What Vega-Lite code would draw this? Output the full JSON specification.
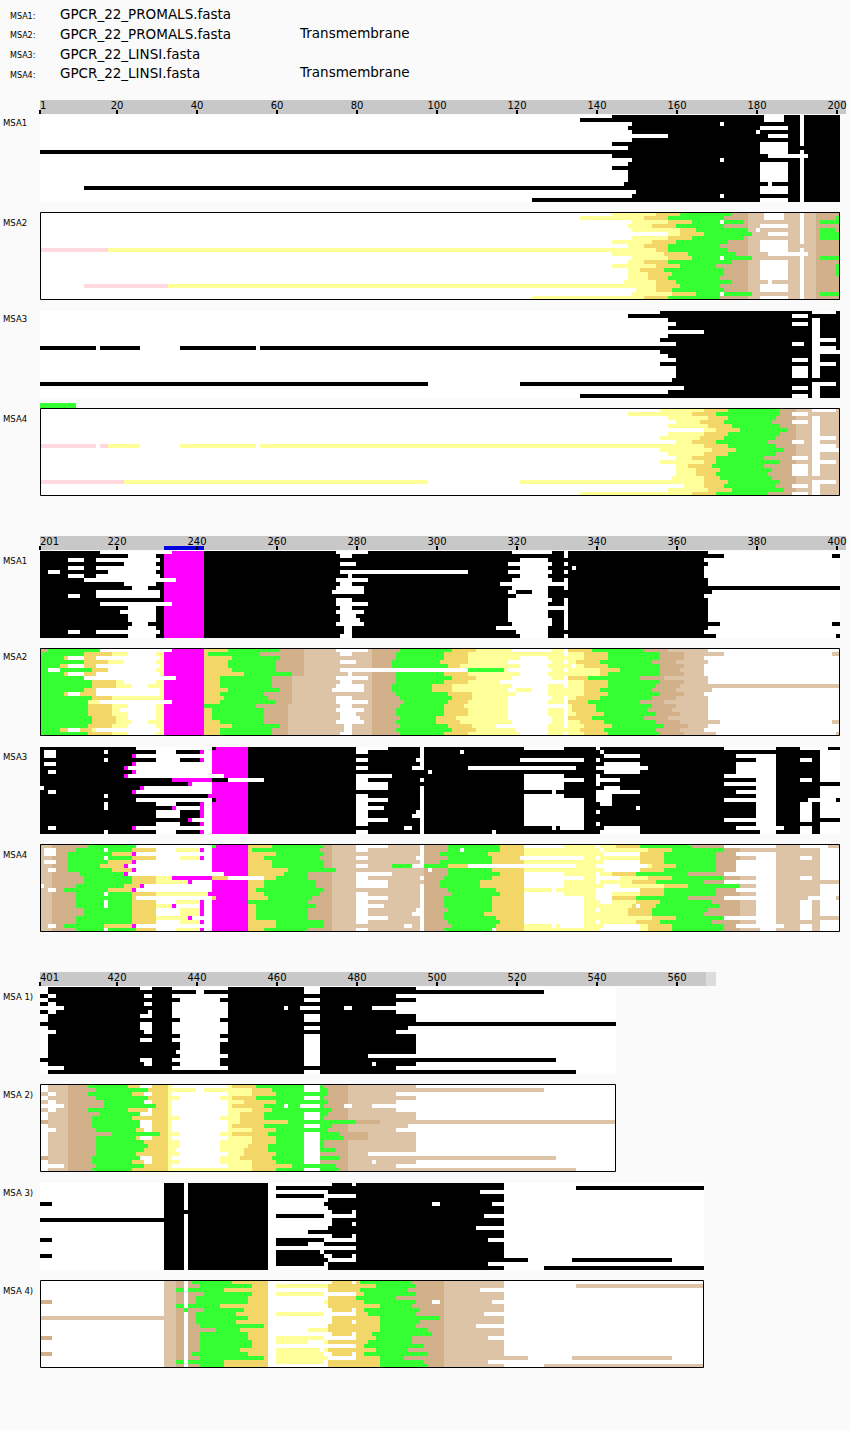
{"$schema":"https://vega.github.io/schema/vega-lite/v6.json","padding":0,"bounds":"flush","spacing":0,"background":"#fafafa","resolve":{"scale":{"color":"independent"}},"config":{"axis":{"disable":true},"legend":{"disable":true},"view":{"stroke":null},"text":{"font":"DejaVu Sans"},"concat":{"spacing":0}},
"datasets":{
"T1":[{"s":20,"t":"20"},{"s":40,"t":"40"},{"s":60,"t":"60"},{"s":80,"t":"80"},{"s":100,"t":"100"},{"s":120,"t":"120"},{"s":140,"t":"140"},{"s":160,"t":"160"},{"s":180,"t":"180"},{"s":200,"t":"200"}],
"T2":[{"s":220,"t":"220"},{"s":240,"t":"240"},{"s":260,"t":"260"},{"s":280,"t":"280"},{"s":300,"t":"300"},{"s":320,"t":"320"},{"s":340,"t":"340"},{"s":360,"t":"360"},{"s":380,"t":"380"},{"s":400,"t":"400"}],
"T3":[{"s":420,"t":"420"},{"s":440,"t":"440"},{"s":460,"t":"460"},{"s":480,"t":"480"},{"s":500,"t":"500"},{"s":520,"t":"520"},{"s":540,"t":"540"},{"s":560,"t":"560"}],
"P1":[{"r":0,"q":22,"s":1,"e":201,"c":"w"},{"r":0,"q":22,"s":165,"e":178,"c":"t"},{"r":0,"q":22,"s":178,"e":195,"c":"l"},{"r":0,"q":22,"s":195,"e":201,"c":"t"},
{"r":0,"q":1,"s":144,"e":155,"c":"y"},{"r":0,"q":1,"s":155,"e":161,"c":"o"},{"r":0,"q":1,"s":161,"e":174,"c":"g"},
{"r":1,"q":2,"s":136,"e":152,"c":"y"},{"r":1,"q":2,"s":152,"e":158,"c":"o"},{"r":1,"q":2,"s":158,"e":172,"c":"g"},
{"r":2,"q":3,"s":149,"e":158,"c":"y"},{"r":2,"q":3,"s":158,"e":164,"c":"o"},{"r":2,"q":3,"s":164,"e":177,"c":"g"},
{"r":3,"q":4,"s":148,"e":154,"c":"y"},{"r":3,"q":4,"s":154,"e":160,"c":"o"},{"r":3,"q":4,"s":160,"e":172,"c":"g"},
{"r":4,"q":5,"s":149,"e":161,"c":"y"},{"r":4,"q":5,"s":161,"e":165,"c":"o"},{"r":4,"q":5,"s":165,"e":178,"c":"g"},
{"r":5,"q":6,"s":158,"e":161,"c":"y"},{"r":5,"q":6,"s":161,"e":167,"c":"o"},{"r":5,"q":6,"s":167,"e":179,"c":"g"},
{"r":6,"q":7,"s":149,"e":158,"c":"y"},{"r":6,"q":7,"s":158,"e":164,"c":"o"},{"r":6,"q":7,"s":164,"e":177,"c":"g"},
{"r":7,"q":8,"s":144,"e":154,"c":"y"},{"r":7,"q":8,"s":154,"e":160,"c":"o"},{"r":7,"q":8,"s":160,"e":173,"c":"g"},
{"r":8,"q":9,"s":148,"e":152,"c":"y"},{"r":8,"q":9,"s":152,"e":158,"c":"o"},{"r":8,"q":9,"s":158,"e":171,"c":"g"},
{"r":9,"q":10,"s":1,"e":18,"c":"p"},{"r":9,"q":10,"s":18,"e":155,"c":"y"},{"r":9,"q":10,"s":155,"e":158,"c":"o"},{"r":9,"q":10,"s":158,"e":173,"c":"g"},
{"r":10,"q":11,"s":144,"e":157,"c":"y"},{"r":10,"q":11,"s":157,"e":163,"c":"o"},{"r":10,"q":11,"s":163,"e":175,"c":"g"},
{"r":11,"q":12,"s":149,"e":158,"c":"y"},{"r":11,"q":12,"s":158,"e":164,"c":"o"},{"r":11,"q":12,"s":164,"e":179,"c":"g"},
{"r":12,"q":13,"s":148,"e":152,"c":"y"},{"r":12,"q":13,"s":152,"e":158,"c":"o"},{"r":12,"q":13,"s":158,"e":174,"c":"g"},
{"r":13,"q":14,"s":144,"e":155,"c":"y"},{"r":13,"q":14,"s":155,"e":161,"c":"o"},{"r":13,"q":14,"s":161,"e":170,"c":"g"},
{"r":14,"q":15,"s":148,"e":151,"c":"y"},{"r":14,"q":15,"s":151,"e":157,"c":"o"},{"r":14,"q":15,"s":157,"e":172,"c":"g"},
{"r":15,"q":16,"s":148,"e":153,"c":"y"},{"r":15,"q":16,"s":153,"e":159,"c":"o"},{"r":15,"q":16,"s":159,"e":172,"c":"g"},
{"r":16,"q":17,"s":148,"e":153,"c":"y"},{"r":16,"q":17,"s":153,"e":158,"c":"o"},{"r":16,"q":17,"s":158,"e":171,"c":"g"},
{"r":17,"q":18,"s":147,"e":155,"c":"y"},{"r":17,"q":18,"s":155,"e":160,"c":"o"},{"r":17,"q":18,"s":160,"e":174,"c":"g"},
{"r":18,"q":19,"s":12,"e":33,"c":"p"},{"r":18,"q":19,"s":33,"e":155,"c":"y"},{"r":18,"q":19,"s":155,"e":161,"c":"o"},{"r":18,"q":19,"s":161,"e":171,"c":"g"},
{"r":19,"q":20,"s":150,"e":155,"c":"y"},{"r":19,"q":20,"s":155,"e":159,"c":"o"},{"r":19,"q":20,"s":159,"e":172,"c":"g"},
{"r":20,"q":21,"s":149,"e":159,"c":"y"},{"r":20,"q":21,"s":159,"e":165,"c":"o"},{"r":20,"q":21,"s":165,"e":179,"c":"g"},
{"r":21,"q":22,"s":124,"e":152,"c":"y"},{"r":21,"q":22,"s":152,"e":158,"c":"o"},{"r":21,"q":22,"s":158,"e":171,"c":"g"},
{"r":2,"q":3,"s":196,"e":201,"c":"g"},{"r":1,"q":2,"s":200,"e":201,"c":"g"},{"r":4,"q":5,"s":196,"e":200,"c":"g"},{"r":5,"q":7,"s":196,"e":201,"c":"g"},{"r":11,"q":12,"s":196,"e":201,"c":"g"},{"r":20,"q":21,"s":196,"e":201,"c":"g"},{"r":13,"q":16,"s":200,"e":201,"c":"g"},
{"r":0,"q":2,"s":182,"e":187,"c":"w"},{"r":3,"q":4,"s":181,"e":188,"c":"w"},{"r":4,"q":5,"s":180,"e":181,"c":"w"},{"r":5,"q":6,"s":183,"e":188,"c":"w"},{"r":7,"q":10,"s":181,"e":188,"c":"w"},{"r":10,"q":11,"s":183,"e":193,"c":"w"},{"r":12,"q":17,"s":181,"e":188,"c":"w"},{"r":17,"q":18,"s":183,"e":184,"c":"w"},{"r":18,"q":20,"s":181,"e":188,"c":"w"},{"r":21,"q":22,"s":181,"e":188,"c":"w"},{"r":0,"q":8,"s":191,"e":192,"c":"w"},{"r":9,"q":22,"s":191,"e":192,"c":"w"},{"r":2,"q":3,"s":171,"e":172,"c":"w"},{"r":11,"q":12,"s":171,"e":172,"c":"w"},{"r":20,"q":21,"s":171,"e":172,"c":"w"}],
"L1":[{"r":0,"q":22,"s":1,"e":201,"c":"w"},{"r":0,"q":22,"s":175,"e":190,"c":"t"},{"r":0,"q":22,"s":190,"e":201,"c":"l"},
{"r":0,"q":1,"s":156,"e":167,"c":"y"},{"r":0,"q":1,"s":167,"e":173,"c":"o"},{"r":0,"q":1,"s":173,"e":186,"c":"g"},
{"r":1,"q":2,"s":148,"e":164,"c":"y"},{"r":1,"q":2,"s":164,"e":170,"c":"o"},{"r":1,"q":2,"s":170,"e":186,"c":"g"},
{"r":2,"q":3,"s":158,"e":168,"c":"y"},{"r":2,"q":3,"s":168,"e":173,"c":"o"},{"r":2,"q":3,"s":173,"e":185,"c":"g"},
{"r":3,"q":4,"s":160,"e":166,"c":"y"},{"r":3,"q":4,"s":166,"e":172,"c":"o"},{"r":3,"q":4,"s":172,"e":184,"c":"g"},
{"r":4,"q":5,"s":158,"e":168,"c":"y"},{"r":4,"q":5,"s":168,"e":174,"c":"o"},{"r":4,"q":5,"s":174,"e":186,"c":"g"},
{"r":5,"q":6,"s":167,"e":170,"c":"y"},{"r":5,"q":6,"s":170,"e":176,"c":"o"},{"r":5,"q":6,"s":176,"e":188,"c":"g"},
{"r":6,"q":7,"s":158,"e":167,"c":"y"},{"r":6,"q":7,"s":167,"e":173,"c":"o"},{"r":6,"q":7,"s":173,"e":186,"c":"g"},
{"r":7,"q":8,"s":156,"e":166,"c":"y"},{"r":7,"q":8,"s":166,"e":172,"c":"o"},{"r":7,"q":8,"s":172,"e":185,"c":"g"},
{"r":8,"q":9,"s":160,"e":164,"c":"y"},{"r":8,"q":9,"s":164,"e":170,"c":"o"},{"r":8,"q":9,"s":170,"e":183,"c":"g"},
{"r":9,"q":10,"s":1,"e":15,"c":"p"},{"r":9,"q":10,"s":16,"e":18,"c":"p"},{"r":9,"q":10,"s":18,"e":26,"c":"y"},{"r":9,"q":10,"s":36,"e":55,"c":"y"},{"r":9,"q":10,"s":56,"e":167,"c":"y"},{"r":9,"q":10,"s":167,"e":173,"c":"o"},{"r":9,"q":10,"s":173,"e":185,"c":"g"},
{"r":10,"q":11,"s":156,"e":169,"c":"y"},{"r":10,"q":11,"s":169,"e":175,"c":"o"},{"r":10,"q":11,"s":175,"e":187,"c":"g"},
{"r":11,"q":12,"s":158,"e":167,"c":"y"},{"r":11,"q":12,"s":167,"e":173,"c":"o"},{"r":11,"q":12,"s":173,"e":185,"c":"g"},
{"r":12,"q":13,"s":160,"e":164,"c":"y"},{"r":12,"q":13,"s":164,"e":170,"c":"o"},{"r":12,"q":13,"s":170,"e":182,"c":"g"},
{"r":13,"q":14,"s":156,"e":167,"c":"y"},{"r":13,"q":14,"s":167,"e":170,"c":"o"},{"r":13,"q":14,"s":170,"e":186,"c":"g"},
{"r":14,"q":15,"s":160,"e":163,"c":"y"},{"r":14,"q":15,"s":163,"e":169,"c":"o"},{"r":14,"q":15,"s":169,"e":182,"c":"g"},
{"r":15,"q":16,"s":160,"e":165,"c":"y"},{"r":15,"q":16,"s":165,"e":171,"c":"o"},{"r":15,"q":16,"s":171,"e":184,"c":"g"},
{"r":16,"q":17,"s":160,"e":165,"c":"y"},{"r":16,"q":17,"s":165,"e":170,"c":"o"},{"r":16,"q":17,"s":170,"e":183,"c":"g"},
{"r":17,"q":18,"s":159,"e":167,"c":"y"},{"r":17,"q":18,"s":167,"e":171,"c":"o"},{"r":17,"q":18,"s":171,"e":184,"c":"g"},
{"r":18,"q":19,"s":1,"e":22,"c":"p"},{"r":18,"q":19,"s":22,"e":98,"c":"y"},{"r":18,"q":19,"s":121,"e":167,"c":"y"},{"r":18,"q":19,"s":167,"e":173,"c":"o"},{"r":18,"q":19,"s":173,"e":186,"c":"g"},
{"r":19,"q":20,"s":162,"e":167,"c":"y"},{"r":19,"q":20,"s":167,"e":172,"c":"o"},{"r":19,"q":20,"s":172,"e":185,"c":"g"},
{"r":20,"q":21,"s":158,"e":168,"c":"y"},{"r":20,"q":21,"s":168,"e":174,"c":"o"},{"r":20,"q":21,"s":174,"e":187,"c":"g"},
{"r":21,"q":22,"s":136,"e":164,"c":"y"},{"r":21,"q":22,"s":164,"e":170,"c":"o"},{"r":21,"q":22,"s":170,"e":183,"c":"g"},
{"r":1,"q":2,"s":189,"e":193,"c":"w"},{"r":3,"q":4,"s":189,"e":193,"c":"w"},{"r":8,"q":9,"s":189,"e":192,"c":"w"},{"r":12,"q":13,"s":189,"e":193,"c":"w"},{"r":14,"q":17,"s":189,"e":193,"c":"w"},{"r":19,"q":20,"s":189,"e":193,"c":"w"},{"r":21,"q":22,"s":189,"e":193,"c":"w"},
{"r":0,"q":1,"s":194,"e":200,"c":"w"},{"r":2,"q":17,"s":194,"e":196,"c":"w"},{"r":18,"q":22,"s":194,"e":196,"c":"w"},{"r":7,"q":8,"s":196,"e":200,"c":"w"},{"r":9,"q":10,"s":196,"e":200,"c":"w"},{"r":10,"q":11,"s":196,"e":201,"c":"w"},{"r":13,"q":14,"s":196,"e":200,"c":"w"},{"r":18,"q":19,"s":196,"e":200,"c":"w"}],
"P2":[{"r":0,"q":22,"s":201,"e":401,"c":"w"},{"r":0,"q":22,"s":212,"e":232,"c":"y"},{"r":0,"q":22,"s":232,"e":242,"c":"m"},{"r":0,"q":22,"s":242,"e":253,"c":"o"},{"r":0,"q":7,"s":255,"e":267,"c":"t"},{"r":7,"q":14,"s":255,"e":264,"c":"t"},{"r":14,"q":22,"s":255,"e":263,"c":"t"},{"r":0,"q":7,"s":267,"e":284,"c":"l"},{"r":7,"q":14,"s":264,"e":284,"c":"l"},{"r":14,"q":22,"s":263,"e":284,"c":"l"},{"r":0,"q":22,"s":284,"e":292,"c":"t"},{"r":0,"q":22,"s":292,"e":352,"c":"y"},
{"r":0,"q":1,"s":201,"e":203,"c":"t"},{"r":0,"q":1,"s":203,"e":216,"c":"g"},{"r":1,"q":2,"s":201,"e":212,"c":"g"},{"r":1,"q":2,"s":212,"e":219,"c":"o"},{"r":2,"q":3,"s":201,"e":207,"c":"g"},{"r":2,"q":3,"s":207,"e":215,"c":"o"},{"r":3,"q":4,"s":201,"e":212,"c":"g"},{"r":3,"q":4,"s":212,"e":218,"c":"o"},{"r":4,"q":5,"s":201,"e":206,"c":"g"},{"r":4,"q":5,"s":206,"e":215,"c":"o"},{"r":5,"q":6,"s":201,"e":214,"c":"g"},{"r":5,"q":6,"s":214,"e":218,"c":"o"},{"r":6,"q":7,"s":201,"e":207,"c":"g"},{"r":6,"q":7,"s":207,"e":215,"c":"o"},{"r":7,"q":8,"s":201,"e":212,"c":"g"},{"r":8,"q":9,"s":201,"e":214,"c":"g"},{"r":8,"q":9,"s":214,"e":220,"c":"o"},{"r":9,"q":10,"s":201,"e":214,"c":"g"},{"r":9,"q":10,"s":214,"e":220,"c":"o"},{"r":10,"q":11,"s":201,"e":212,"c":"g"},{"r":10,"q":11,"s":212,"e":215,"c":"o"},{"r":11,"q":12,"s":201,"e":207,"c":"g"},{"r":11,"q":12,"s":207,"e":215,"c":"o"},{"r":12,"q":13,"s":201,"e":214,"c":"g"},{"r":12,"q":13,"s":214,"e":219,"c":"o"},{"r":13,"q":14,"s":201,"e":213,"c":"g"},{"r":14,"q":17,"s":201,"e":213,"c":"g"},{"r":14,"q":17,"s":213,"e":219,"c":"o"},{"r":17,"q":19,"s":201,"e":214,"c":"g"},{"r":17,"q":19,"s":214,"e":220,"c":"o"},{"r":19,"q":20,"s":201,"e":213,"c":"g"},{"r":19,"q":20,"s":213,"e":219,"c":"o"},{"r":20,"q":21,"s":201,"e":206,"c":"g"},{"r":20,"q":21,"s":206,"e":214,"c":"o"},{"r":21,"q":22,"s":201,"e":213,"c":"g"},{"r":21,"q":22,"s":213,"e":219,"c":"o"},
{"r":0,"q":1,"s":248,"e":261,"c":"g"},{"r":1,"q":2,"s":243,"e":256,"c":"g"},{"r":2,"q":3,"s":249,"e":261,"c":"g"},{"r":3,"q":5,"s":248,"e":260,"c":"g"},{"r":5,"q":6,"s":249,"e":260,"c":"g"},{"r":6,"q":7,"s":252,"e":264,"c":"g"},{"r":7,"q":10,"s":246,"e":259,"c":"g"},{"r":10,"q":11,"s":248,"e":261,"c":"g"},{"r":11,"q":12,"s":246,"e":257,"c":"g"},{"r":12,"q":13,"s":247,"e":258,"c":"g"},{"r":13,"q":14,"s":246,"e":260,"c":"g"},{"r":14,"q":15,"s":242,"e":255,"c":"g"},{"r":15,"q":18,"s":244,"e":257,"c":"g"},{"r":18,"q":19,"s":246,"e":257,"c":"g"},{"r":19,"q":20,"s":249,"e":261,"c":"g"},{"r":20,"q":22,"s":246,"e":259,"c":"g"},
{"r":0,"q":1,"s":291,"e":304,"c":"g"},{"r":0,"q":1,"s":304,"e":310,"c":"o"},{"r":1,"q":3,"s":290,"e":302,"c":"g"},{"r":1,"q":3,"s":302,"e":308,"c":"o"},{"r":3,"q":4,"s":289,"e":301,"c":"g"},{"r":3,"q":4,"s":301,"e":308,"c":"o"},{"r":4,"q":5,"s":289,"e":303,"c":"g"},{"r":4,"q":5,"s":303,"e":306,"c":"o"},{"r":5,"q":6,"s":308,"e":317,"c":"g"},{"r":6,"q":7,"s":290,"e":302,"c":"g"},{"r":6,"q":7,"s":302,"e":308,"c":"o"},{"r":7,"q":8,"s":290,"e":304,"c":"g"},{"r":7,"q":8,"s":304,"e":310,"c":"o"},{"r":8,"q":9,"s":290,"e":302,"c":"g"},{"r":8,"q":9,"s":302,"e":308,"c":"o"},{"r":9,"q":11,"s":289,"e":299,"c":"g"},{"r":9,"q":11,"s":299,"e":304,"c":"o"},{"r":11,"q":12,"s":290,"e":303,"c":"g"},{"r":11,"q":12,"s":303,"e":309,"c":"o"},{"r":12,"q":13,"s":291,"e":304,"c":"g"},{"r":12,"q":13,"s":304,"e":309,"c":"o"},{"r":13,"q":14,"s":292,"e":303,"c":"g"},{"r":13,"q":14,"s":303,"e":308,"c":"o"},{"r":14,"q":15,"s":291,"e":302,"c":"g"},{"r":14,"q":15,"s":302,"e":307,"c":"o"},{"r":15,"q":17,"s":290,"e":302,"c":"g"},{"r":15,"q":17,"s":302,"e":308,"c":"o"},{"r":17,"q":18,"s":291,"e":300,"c":"g"},{"r":17,"q":18,"s":300,"e":305,"c":"o"},{"r":18,"q":19,"s":290,"e":300,"c":"g"},{"r":18,"q":19,"s":300,"e":306,"c":"o"},{"r":19,"q":20,"s":291,"e":303,"c":"g"},{"r":19,"q":20,"s":303,"e":309,"c":"o"},{"r":20,"q":21,"s":290,"e":304,"c":"g"},{"r":20,"q":21,"s":304,"e":310,"c":"o"},{"r":21,"q":22,"s":291,"e":302,"c":"g"},{"r":21,"q":22,"s":302,"e":308,"c":"o"},
{"r":0,"q":1,"s":333,"e":339,"c":"o"},{"r":0,"q":1,"s":339,"e":352,"c":"g"},{"r":0,"q":1,"s":352,"e":358,"c":"t"},{"r":0,"q":1,"s":358,"e":368,"c":"l"},{"r":1,"q":3,"s":337,"e":343,"c":"o"},{"r":1,"q":3,"s":343,"e":356,"c":"g"},{"r":1,"q":3,"s":356,"e":362,"c":"t"},{"r":1,"q":2,"s":362,"e":372,"c":"l"},{"r":1,"q":2,"s":399,"e":401,"c":"l"},{"r":2,"q":3,"s":362,"e":367,"c":"l"},{"r":3,"q":4,"s":335,"e":341,"c":"o"},{"r":3,"q":4,"s":341,"e":354,"c":"g"},{"r":3,"q":4,"s":354,"e":360,"c":"t"},{"r":3,"q":4,"s":360,"e":368,"c":"l"},{"r":4,"q":5,"s":337,"e":343,"c":"o"},{"r":4,"q":5,"s":343,"e":356,"c":"g"},{"r":4,"q":5,"s":356,"e":362,"c":"t"},{"r":4,"q":5,"s":362,"e":367,"c":"l"},{"r":5,"q":6,"s":341,"e":346,"c":"o"},{"r":5,"q":6,"s":346,"e":356,"c":"g"},{"r":5,"q":6,"s":356,"e":361,"c":"t"},{"r":5,"q":6,"s":361,"e":367,"c":"l"},{"r":6,"q":7,"s":341,"e":343,"c":"o"},{"r":6,"q":7,"s":343,"e":356,"c":"g"},{"r":6,"q":7,"s":356,"e":362,"c":"t"},{"r":6,"q":7,"s":362,"e":367,"c":"l"},{"r":7,"q":8,"s":333,"e":338,"c":"o"},{"r":7,"q":8,"s":338,"e":351,"c":"g"},{"r":7,"q":8,"s":351,"e":357,"c":"t"},{"r":7,"q":8,"s":357,"e":368,"c":"l"},{"r":8,"q":9,"s":337,"e":343,"c":"o"},{"r":8,"q":9,"s":343,"e":356,"c":"g"},{"r":8,"q":9,"s":356,"e":362,"c":"t"},{"r":8,"q":9,"s":362,"e":368,"c":"l"},{"r":9,"q":10,"s":337,"e":343,"c":"o"},{"r":9,"q":10,"s":343,"e":355,"c":"g"},{"r":9,"q":10,"s":355,"e":361,"c":"t"},{"r":9,"q":10,"s":361,"e":401,"c":"l"},{"r":10,"q":11,"s":337,"e":341,"c":"o"},{"r":10,"q":11,"s":341,"e":354,"c":"g"},{"r":10,"q":11,"s":354,"e":360,"c":"t"},{"r":10,"q":11,"s":360,"e":369,"c":"l"},{"r":11,"q":12,"s":337,"e":343,"c":"o"},{"r":11,"q":12,"s":343,"e":356,"c":"g"},{"r":11,"q":12,"s":356,"e":362,"c":"t"},{"r":11,"q":12,"s":362,"e":367,"c":"l"},{"r":12,"q":13,"s":335,"e":341,"c":"o"},{"r":12,"q":13,"s":341,"e":354,"c":"g"},{"r":12,"q":13,"s":354,"e":360,"c":"t"},{"r":12,"q":13,"s":360,"e":368,"c":"l"},{"r":13,"q":14,"s":333,"e":338,"c":"o"},{"r":13,"q":14,"s":338,"e":351,"c":"g"},{"r":13,"q":14,"s":351,"e":357,"c":"t"},{"r":13,"q":14,"s":357,"e":368,"c":"l"},{"r":14,"q":15,"s":334,"e":340,"c":"o"},{"r":14,"q":15,"s":340,"e":354,"c":"g"},{"r":14,"q":15,"s":354,"e":360,"c":"t"},{"r":14,"q":15,"s":360,"e":368,"c":"l"},{"r":15,"q":16,"s":334,"e":340,"c":"o"},{"r":15,"q":16,"s":340,"e":353,"c":"g"},{"r":15,"q":16,"s":353,"e":359,"c":"t"},{"r":15,"q":16,"s":359,"e":368,"c":"l"},{"r":16,"q":17,"s":335,"e":342,"c":"o"},{"r":16,"q":17,"s":342,"e":355,"c":"g"},{"r":16,"q":17,"s":355,"e":361,"c":"t"},{"r":16,"q":17,"s":361,"e":368,"c":"l"},{"r":17,"q":18,"s":333,"e":339,"c":"o"},{"r":17,"q":18,"s":339,"e":352,"c":"g"},{"r":17,"q":18,"s":352,"e":358,"c":"t"},{"r":17,"q":18,"s":358,"e":368,"c":"l"},{"r":18,"q":19,"s":336,"e":342,"c":"o"},{"r":18,"q":19,"s":342,"e":355,"c":"g"},{"r":18,"q":19,"s":355,"e":361,"c":"t"},{"r":18,"q":19,"s":361,"e":371,"c":"l"},{"r":18,"q":19,"s":399,"e":401,"c":"l"},{"r":19,"q":20,"s":337,"e":344,"c":"o"},{"r":19,"q":20,"s":344,"e":357,"c":"g"},{"r":19,"q":20,"s":357,"e":363,"c":"t"},{"r":19,"q":20,"s":363,"e":368,"c":"l"},{"r":20,"q":21,"s":336,"e":342,"c":"o"},{"r":20,"q":21,"s":342,"e":355,"c":"g"},{"r":20,"q":21,"s":355,"e":361,"c":"t"},{"r":20,"q":21,"s":361,"e":367,"c":"l"},{"r":21,"q":22,"s":337,"e":343,"c":"o"},{"r":21,"q":22,"s":343,"e":356,"c":"g"},{"r":21,"q":22,"s":356,"e":362,"c":"t"},{"r":21,"q":22,"s":362,"e":370,"c":"l"},{"r":21,"q":22,"s":400,"e":401,"c":"l"},
{"r":0,"q":1,"s":216,"e":234,"c":"w"},{"r":1,"q":2,"s":223,"e":230,"c":"w"},{"r":2,"q":3,"s":208,"e":212,"c":"w"},{"r":2,"q":3,"s":215,"e":231,"c":"w"},{"r":3,"q":4,"s":222,"e":230,"c":"w"},{"r":4,"q":5,"s":208,"e":212,"c":"w"},{"r":4,"q":5,"s":215,"e":231,"c":"w"},{"r":5,"q":6,"s":203,"e":206,"c":"w"},{"r":5,"q":6,"s":218,"e":230,"c":"w"},{"r":6,"q":7,"s":208,"e":212,"c":"w"},{"r":6,"q":7,"s":215,"e":231,"c":"w"},{"r":7,"q":8,"s":212,"e":235,"c":"w"},{"r":8,"q":9,"s":222,"e":230,"c":"w"},{"r":9,"q":10,"s":224,"e":228,"c":"w"},{"r":10,"q":11,"s":215,"e":231,"c":"w"},{"r":11,"q":12,"s":208,"e":211,"c":"w"},{"r":11,"q":12,"s":215,"e":231,"c":"w"},{"r":13,"q":14,"s":216,"e":234,"c":"w"},{"r":14,"q":15,"s":223,"e":230,"c":"w"},{"r":15,"q":16,"s":221,"e":230,"c":"w"},{"r":16,"q":18,"s":223,"e":230,"c":"w"},{"r":18,"q":19,"s":224,"e":228,"c":"w"},{"r":19,"q":20,"s":223,"e":230,"c":"w"},{"r":20,"q":21,"s":208,"e":211,"c":"w"},{"r":20,"q":21,"s":215,"e":231,"c":"w"},{"r":21,"q":22,"s":223,"e":230,"c":"w"},
{"r":0,"q":1,"s":275,"e":283,"c":"w"},{"r":0,"q":1,"s":319,"e":329,"c":"w"},{"r":1,"q":2,"s":276,"e":279,"c":"w"},{"r":2,"q":3,"s":321,"e":328,"c":"w"},{"r":3,"q":4,"s":276,"e":280,"c":"w"},{"r":3,"q":4,"s":318,"e":329,"c":"w"},{"r":4,"q":5,"s":321,"e":328,"c":"w"},{"r":4,"q":5,"s":334,"e":335,"c":"w"},{"r":5,"q":6,"s":276,"e":308,"c":"w"},{"r":5,"q":6,"s":318,"e":329,"c":"w"},{"r":6,"q":7,"s":278,"e":279,"c":"w"},{"r":6,"q":7,"s":321,"e":328,"c":"w"},{"r":7,"q":8,"s":275,"e":283,"c":"w"},{"r":7,"q":8,"s":319,"e":329,"c":"w"},{"r":8,"q":9,"s":276,"e":279,"c":"w"},{"r":8,"q":9,"s":316,"e":333,"c":"w"},{"r":9,"q":10,"s":275,"e":282,"c":"w"},{"r":9,"q":10,"s":319,"e":328,"c":"w"},{"r":10,"q":11,"s":274,"e":282,"c":"w"},{"r":10,"q":11,"s":318,"e":320,"c":"w"},{"r":10,"q":11,"s":324,"e":328,"c":"w"},{"r":11,"q":12,"s":320,"e":328,"c":"w"},{"r":12,"q":13,"s":275,"e":279,"c":"w"},{"r":12,"q":13,"s":318,"e":329,"c":"w"},{"r":13,"q":14,"s":275,"e":283,"c":"w"},{"r":13,"q":14,"s":318,"e":328,"c":"w"},{"r":14,"q":15,"s":276,"e":279,"c":"w"},{"r":14,"q":15,"s":318,"e":333,"c":"w"},{"r":15,"q":16,"s":275,"e":282,"c":"w"},{"r":15,"q":16,"s":318,"e":328,"c":"w"},{"r":16,"q":17,"s":276,"e":280,"c":"w"},{"r":16,"q":17,"s":318,"e":328,"c":"w"},{"r":17,"q":18,"s":276,"e":281,"c":"w"},{"r":17,"q":18,"s":318,"e":329,"c":"w"},{"r":18,"q":19,"s":275,"e":282,"c":"w"},{"r":18,"q":19,"s":319,"e":329,"c":"w"},{"r":19,"q":20,"s":277,"e":279,"c":"w"},{"r":19,"q":20,"s":315,"e":328,"c":"w"},{"r":20,"q":21,"s":277,"e":279,"c":"w"},{"r":20,"q":21,"s":320,"e":328,"c":"w"},{"r":21,"q":22,"s":276,"e":279,"c":"w"},{"r":21,"q":22,"s":321,"e":328,"c":"w"},
{"r":0,"q":2,"s":332,"e":333,"c":"w"},{"r":3,"q":4,"s":332,"e":333,"c":"w"},{"r":5,"q":6,"s":332,"e":333,"c":"w"},{"r":7,"q":10,"s":332,"e":333,"c":"w"},{"r":12,"q":20,"s":332,"e":333,"c":"w"},{"r":21,"q":22,"s":332,"e":333,"c":"w"}],
"L2":[{"r":0,"q":22,"s":201,"e":401,"c":"w"},{"r":0,"q":22,"s":201,"e":204,"c":"l"},{"r":0,"q":22,"s":204,"e":214,"c":"t"},{"r":0,"q":22,"s":224,"e":232,"c":"o"},{"r":0,"q":22,"s":253,"e":264,"c":"o"},{"r":0,"q":22,"s":266,"e":274,"c":"t"},{"r":0,"q":22,"s":274,"e":297,"c":"l"},{"r":0,"q":22,"s":297,"e":304,"c":"t"},{"r":0,"q":22,"s":310,"e":322,"c":"o"},{"r":0,"q":22,"s":322,"e":358,"c":"y"},{"r":0,"q":22,"s":363,"e":376,"c":"t"},{"r":0,"q":22,"s":376,"e":397,"c":"l"},
{"r":0,"q":1,"s":213,"e":225,"c":"g"},{"r":1,"q":2,"s":210,"e":224,"c":"g"},{"r":2,"q":3,"s":208,"e":219,"c":"g"},{"r":2,"q":3,"s":219,"e":225,"c":"o"},{"r":3,"q":4,"s":208,"e":224,"c":"g"},{"r":4,"q":5,"s":208,"e":218,"c":"g"},{"r":4,"q":5,"s":218,"e":225,"c":"o"},{"r":5,"q":6,"s":208,"e":216,"c":"g"},{"r":5,"q":6,"s":216,"e":223,"c":"o"},{"r":6,"q":7,"s":208,"e":219,"c":"g"},{"r":6,"q":7,"s":219,"e":225,"c":"o"},{"r":7,"q":8,"s":211,"e":222,"c":"g"},{"r":8,"q":10,"s":212,"e":224,"c":"g"},{"r":10,"q":11,"s":210,"e":222,"c":"g"},{"r":10,"q":11,"s":222,"e":226,"c":"o"},{"r":11,"q":12,"s":207,"e":218,"c":"g"},{"r":11,"q":12,"s":218,"e":225,"c":"o"},{"r":12,"q":16,"s":210,"e":224,"c":"g"},{"r":16,"q":18,"s":212,"e":224,"c":"g"},{"r":18,"q":20,"s":210,"e":224,"c":"g"},{"r":20,"q":21,"s":207,"e":217,"c":"g"},{"r":20,"q":21,"s":217,"e":225,"c":"o"},{"r":21,"q":22,"s":210,"e":217,"c":"g"},{"r":21,"q":22,"s":218,"e":225,"c":"g"},
{"r":8,"q":9,"s":230,"e":234,"c":"y"},{"r":12,"q":13,"s":230,"e":243,"c":"y"},{"r":1,"q":2,"s":235,"e":241,"c":"y"},{"r":3,"q":4,"s":236,"e":241,"c":"y"},{"r":9,"q":10,"s":230,"e":238,"c":"y"},{"r":14,"q":15,"s":235,"e":241,"c":"y"},{"r":15,"q":16,"s":230,"e":234,"c":"y"},{"r":16,"q":18,"s":236,"e":241,"c":"y"},{"r":18,"q":19,"s":230,"e":238,"c":"y"},{"r":19,"q":20,"s":236,"e":241,"c":"y"},{"r":21,"q":22,"s":235,"e":241,"c":"y"},
{"r":0,"q":1,"s":259,"e":272,"c":"g"},{"r":1,"q":2,"s":254,"e":271,"c":"g"},{"r":2,"q":3,"s":260,"e":272,"c":"g"},{"r":3,"q":4,"s":257,"e":271,"c":"g"},{"r":4,"q":6,"s":259,"e":272,"c":"g"},{"r":6,"q":7,"s":263,"e":275,"c":"g"},{"r":7,"q":8,"s":262,"e":268,"c":"g"},{"r":8,"q":9,"s":260,"e":268,"c":"g"},{"r":9,"q":11,"s":257,"e":270,"c":"g"},{"r":11,"q":12,"s":255,"e":272,"c":"g"},{"r":12,"q":13,"s":257,"e":271,"c":"g"},{"r":13,"q":14,"s":258,"e":269,"c":"g"},{"r":14,"q":15,"s":253,"e":268,"c":"g"},{"r":15,"q":16,"s":255,"e":270,"c":"g"},{"r":16,"q":19,"s":255,"e":268,"c":"g"},{"r":19,"q":21,"s":260,"e":272,"c":"g"},{"r":21,"q":22,"s":257,"e":268,"c":"g"},
{"r":0,"q":2,"s":303,"e":316,"c":"g"},{"r":2,"q":3,"s":301,"e":313,"c":"g"},{"r":3,"q":4,"s":303,"e":314,"c":"g"},{"r":4,"q":5,"s":301,"e":314,"c":"g"},{"r":5,"q":6,"s":302,"e":303,"c":"g"},{"r":5,"q":6,"s":303,"e":308,"c":"o"},{"r":5,"q":6,"s":289,"e":294,"c":"g"},{"r":5,"q":6,"s":297,"e":302,"c":"g"},{"r":6,"q":7,"s":303,"e":314,"c":"g"},{"r":7,"q":8,"s":303,"e":316,"c":"g"},{"r":8,"q":9,"s":302,"e":314,"c":"g"},{"r":9,"q":11,"s":301,"e":311,"c":"g"},{"r":11,"q":12,"s":303,"e":315,"c":"g"},{"r":12,"q":13,"s":304,"e":316,"c":"g"},{"r":13,"q":16,"s":302,"e":314,"c":"g"},{"r":16,"q":17,"s":303,"e":314,"c":"g"},{"r":17,"q":18,"s":302,"e":312,"c":"g"},{"r":18,"q":19,"s":302,"e":315,"c":"g"},{"r":19,"q":20,"s":303,"e":316,"c":"g"},{"r":20,"q":21,"s":304,"e":315,"c":"g"},{"r":21,"q":22,"s":302,"e":314,"c":"g"},
{"r":0,"q":1,"s":345,"e":351,"c":"o"},{"r":0,"q":1,"s":351,"e":364,"c":"g"},{"r":1,"q":2,"s":353,"e":359,"c":"o"},{"r":1,"q":2,"s":359,"e":372,"c":"g"},{"r":2,"q":5,"s":351,"e":357,"c":"o"},{"r":2,"q":5,"s":357,"e":370,"c":"g"},{"r":5,"q":6,"s":354,"e":360,"c":"o"},{"r":5,"q":6,"s":360,"e":370,"c":"g"},{"r":6,"q":7,"s":351,"e":357,"c":"o"},{"r":6,"q":7,"s":357,"e":370,"c":"g"},{"r":7,"q":8,"s":344,"e":350,"c":"o"},{"r":7,"q":8,"s":350,"e":363,"c":"g"},{"r":8,"q":9,"s":353,"e":359,"c":"o"},{"r":8,"q":9,"s":359,"e":372,"c":"g"},{"r":9,"q":10,"s":349,"e":355,"c":"o"},{"r":9,"q":10,"s":355,"e":367,"c":"g"},{"r":10,"q":11,"s":357,"e":363,"c":"o"},{"r":10,"q":11,"s":363,"e":376,"c":"g"},{"r":11,"q":13,"s":351,"e":357,"c":"o"},{"r":11,"q":13,"s":357,"e":370,"c":"g"},{"r":13,"q":14,"s":344,"e":350,"c":"o"},{"r":13,"q":14,"s":350,"e":363,"c":"g"},{"r":14,"q":15,"s":350,"e":356,"c":"o"},{"r":14,"q":15,"s":356,"e":369,"c":"g"},{"r":15,"q":16,"s":349,"e":355,"c":"o"},{"r":15,"q":16,"s":355,"e":371,"c":"g"},{"r":16,"q":17,"s":348,"e":354,"c":"o"},{"r":16,"q":17,"s":354,"e":368,"c":"g"},{"r":17,"q":18,"s":348,"e":354,"c":"o"},{"r":17,"q":18,"s":354,"e":367,"c":"g"},{"r":18,"q":19,"s":354,"e":360,"c":"o"},{"r":18,"q":19,"s":360,"e":373,"c":"g"},{"r":19,"q":20,"s":350,"e":356,"c":"o"},{"r":19,"q":20,"s":356,"e":369,"c":"g"},{"r":20,"q":22,"s":353,"e":359,"c":"o"},{"r":20,"q":22,"s":359,"e":372,"c":"g"},
{"r":0,"q":1,"s":225,"e":244,"c":"w"},{"r":1,"q":2,"s":202,"e":205,"c":"w"},{"r":1,"q":2,"s":217,"e":218,"c":"w"},{"r":1,"q":2,"s":230,"e":235,"c":"w"},{"r":1,"q":2,"s":241,"e":244,"c":"w"},{"r":2,"q":3,"s":202,"e":205,"c":"w"},{"r":2,"q":3,"s":225,"e":244,"c":"w"},{"r":3,"q":4,"s":217,"e":218,"c":"w"},{"r":3,"q":4,"s":230,"e":236,"c":"w"},{"r":3,"q":4,"s":241,"e":244,"c":"w"},{"r":4,"q":5,"s":202,"e":205,"c":"w"},{"r":4,"q":5,"s":225,"e":244,"c":"w"},{"r":5,"q":6,"s":223,"e":244,"c":"w"},{"r":6,"q":7,"s":203,"e":205,"c":"w"},{"r":6,"q":7,"s":225,"e":244,"c":"w"},{"r":7,"q":8,"s":223,"e":244,"c":"w"},{"r":9,"q":10,"s":239,"e":244,"c":"w"},{"r":10,"q":11,"s":201,"e":202,"c":"w"},{"r":10,"q":11,"s":227,"e":244,"c":"w"},{"r":11,"q":12,"s":203,"e":205,"c":"w"},{"r":11,"q":12,"s":225,"e":244,"c":"w"},{"r":12,"q":13,"s":217,"e":218,"c":"w"},{"r":13,"q":14,"s":225,"e":243,"c":"w"},{"r":14,"q":15,"s":217,"e":218,"c":"w"},{"r":14,"q":15,"s":230,"e":235,"c":"w"},{"r":14,"q":15,"s":241,"e":244,"c":"w"},{"r":15,"q":16,"s":217,"e":218,"c":"w"},{"r":15,"q":16,"s":235,"e":241,"c":"w"},{"r":15,"q":16,"s":241,"e":244,"c":"w"},{"r":16,"q":18,"s":230,"e":236,"c":"w"},{"r":16,"q":18,"s":241,"e":244,"c":"w"},{"r":18,"q":19,"s":239,"e":244,"c":"w"},{"r":19,"q":20,"s":230,"e":236,"c":"w"},{"r":19,"q":20,"s":241,"e":244,"c":"w"},{"r":20,"q":21,"s":203,"e":205,"c":"w"},{"r":20,"q":21,"s":225,"e":244,"c":"w"},{"r":21,"q":22,"s":217,"e":218,"c":"w"},{"r":21,"q":22,"s":230,"e":235,"c":"w"},{"r":21,"q":22,"s":241,"e":244,"c":"w"},
{"r":0,"q":7,"s":244,"e":253,"c":"m"},{"r":7,"q":8,"s":247,"e":253,"c":"m"},{"r":9,"q":22,"s":244,"e":253,"c":"m"},{"r":0,"q":1,"s":244,"e":245,"c":"g"},{"r":13,"q":14,"s":244,"e":245,"c":"o"},{"r":8,"q":9,"s":244,"e":248,"c":"o"},{"r":8,"q":9,"s":234,"e":244,"c":"m"},{"r":8,"q":9,"s":248,"e":257,"c":"w"},
{"r":1,"q":2,"s":241,"e":242,"c":"m"},{"r":2,"q":3,"s":224,"e":225,"c":"m"},{"r":3,"q":4,"s":241,"e":242,"c":"m"},{"r":4,"q":5,"s":224,"e":225,"c":"m"},{"r":5,"q":6,"s":222,"e":223,"c":"m"},{"r":6,"q":7,"s":224,"e":225,"c":"m"},{"r":7,"q":8,"s":222,"e":223,"c":"m"},{"r":9,"q":10,"s":238,"e":239,"c":"m"},{"r":10,"q":11,"s":226,"e":227,"c":"m"},{"r":11,"q":12,"s":224,"e":225,"c":"m"},{"r":12,"q":13,"s":243,"e":244,"c":"m"},{"r":14,"q":15,"s":241,"e":242,"c":"m"},{"r":15,"q":16,"s":234,"e":235,"c":"m"},{"r":15,"q":16,"s":241,"e":242,"c":"m"},{"r":16,"q":18,"s":241,"e":242,"c":"m"},{"r":18,"q":19,"s":238,"e":239,"c":"m"},{"r":19,"q":20,"s":241,"e":242,"c":"m"},{"r":20,"q":21,"s":224,"e":225,"c":"m"},{"r":21,"q":22,"s":241,"e":242,"c":"m"},
{"r":0,"q":1,"s":280,"e":288,"c":"w"},{"r":1,"q":2,"s":280,"e":283,"c":"w"},{"r":1,"q":2,"s":306,"e":307,"c":"w"},{"r":3,"q":4,"s":280,"e":283,"c":"w"},{"r":3,"q":4,"s":295,"e":297,"c":"w"},{"r":3,"q":4,"s":321,"e":337,"c":"w"},{"r":5,"q":6,"s":280,"e":283,"c":"w"},{"r":5,"q":6,"s":294,"e":297,"c":"w"},{"r":5,"q":6,"s":308,"e":335,"c":"w"},{"r":6,"q":7,"s":298,"e":299,"c":"w"},{"r":7,"q":8,"s":280,"e":289,"c":"w"},{"r":7,"q":8,"s":322,"e":332,"c":"w"},{"r":8,"q":9,"s":280,"e":283,"c":"w"},{"r":8,"q":9,"s":322,"e":337,"c":"w"},{"r":9,"q":10,"s":280,"e":288,"c":"w"},{"r":9,"q":10,"s":322,"e":332,"c":"w"},{"r":10,"q":11,"s":280,"e":288,"c":"w"},{"r":10,"q":11,"s":322,"e":332,"c":"w"},{"r":11,"q":12,"s":329,"e":330,"c":"w"},{"r":12,"q":13,"s":280,"e":283,"c":"w"},{"r":12,"q":13,"s":322,"e":332,"c":"w"},{"r":13,"q":14,"s":280,"e":288,"c":"w"},{"r":13,"q":18,"s":322,"e":337,"c":"w"},{"r":14,"q":15,"s":280,"e":283,"c":"w"},{"r":15,"q":16,"s":280,"e":287,"c":"w"},{"r":16,"q":18,"s":280,"e":283,"c":"w"},{"r":16,"q":17,"s":295,"e":297,"c":"w"},{"r":17,"q":18,"s":294,"e":297,"c":"w"},{"r":18,"q":19,"s":280,"e":288,"c":"w"},{"r":18,"q":19,"s":322,"e":332,"c":"w"},{"r":19,"q":20,"s":280,"e":283,"c":"w"},{"r":19,"q":20,"s":322,"e":337,"c":"w"},{"r":20,"q":21,"s":292,"e":294,"c":"w"},{"r":20,"q":21,"s":329,"e":330,"c":"w"},{"r":21,"q":22,"s":280,"e":283,"c":"w"},{"r":21,"q":22,"s":314,"e":315,"c":"w"},{"r":0,"q":6,"s":296,"e":297,"c":"w"},{"r":8,"q":9,"s":296,"e":297,"c":"w"},{"r":10,"q":22,"s":296,"e":297,"c":"w"},{"r":0,"q":1,"s":322,"e":332,"c":"w"},
{"r":0,"q":1,"s":340,"e":341,"c":"w"},{"r":0,"q":1,"s":372,"e":385,"c":"w"},{"r":0,"q":1,"s":391,"e":398,"c":"w"},{"r":1,"q":2,"s":341,"e":342,"c":"w"},{"r":2,"q":3,"s":342,"e":351,"c":"w"},{"r":2,"q":3,"s":375,"e":385,"c":"w"},{"r":3,"q":4,"s":331,"e":337,"c":"w"},{"r":3,"q":4,"s":340,"e":341,"c":"w"},{"r":3,"q":4,"s":380,"e":385,"c":"w"},{"r":3,"q":4,"s":391,"e":394,"c":"w"},{"r":4,"q":5,"s":342,"e":351,"c":"w"},{"r":4,"q":5,"s":375,"e":385,"c":"w"},{"r":5,"q":6,"s":331,"e":335,"c":"w"},{"r":5,"q":6,"s":340,"e":353,"c":"w"},{"r":5,"q":6,"s":375,"e":385,"c":"w"},{"r":6,"q":7,"s":342,"e":351,"c":"w"},{"r":6,"q":7,"s":375,"e":385,"c":"w"},{"r":7,"q":8,"s":340,"e":341,"c":"w"},{"r":7,"q":8,"s":372,"e":385,"c":"w"},{"r":8,"q":9,"s":331,"e":337,"c":"w"},{"r":8,"q":9,"s":340,"e":346,"c":"w"},{"r":8,"q":9,"s":380,"e":385,"c":"w"},{"r":8,"q":9,"s":391,"e":394,"c":"w"},{"r":9,"q":10,"s":340,"e":341,"c":"w"},{"r":9,"q":10,"s":372,"e":385,"c":"w"},{"r":10,"q":11,"s":342,"e":346,"c":"w"},{"r":10,"q":11,"s":380,"e":385,"c":"w"},{"r":11,"q":12,"s":340,"e":351,"c":"w"},{"r":11,"q":12,"s":375,"e":385,"c":"w"},{"r":12,"q":13,"s":340,"e":344,"c":"w"},{"r":12,"q":13,"s":380,"e":385,"c":"w"},{"r":13,"q":14,"s":340,"e":344,"c":"w"},{"r":13,"q":14,"s":372,"e":385,"c":"w"},{"r":13,"q":14,"s":393,"e":396,"c":"w"},{"r":14,"q":15,"s":341,"e":344,"c":"w"},{"r":14,"q":18,"s":380,"e":385,"c":"w"},{"r":14,"q":18,"s":391,"e":394,"c":"w"},{"r":15,"q":16,"s":331,"e":337,"c":"w"},{"r":15,"q":16,"s":350,"e":351,"c":"w"},{"r":16,"q":17,"s":331,"e":337,"c":"w"},{"r":16,"q":17,"s":340,"e":341,"c":"w"},{"r":18,"q":19,"s":331,"e":337,"c":"w"},{"r":18,"q":19,"s":372,"e":385,"c":"w"},{"r":18,"q":19,"s":391,"e":394,"c":"w"},{"r":19,"q":20,"s":340,"e":341,"c":"w"},{"r":19,"q":20,"s":380,"e":385,"c":"w"},{"r":20,"q":21,"s":331,"e":337,"c":"w"},{"r":20,"q":21,"s":342,"e":351,"c":"w"},{"r":20,"q":21,"s":375,"e":387,"c":"w"},{"r":20,"q":21,"s":391,"e":394,"c":"w"},{"r":21,"q":22,"s":341,"e":351,"c":"w"},{"r":21,"q":22,"s":381,"e":385,"c":"w"},{"r":21,"q":22,"s":391,"e":394,"c":"w"},
{"r":0,"q":1,"s":398,"e":401,"c":"l"},{"r":1,"q":2,"s":396,"e":397,"c":"w"},{"r":2,"q":9,"s":396,"e":401,"c":"w"},{"r":9,"q":10,"s":396,"e":401,"c":"l"},{"r":10,"q":18,"s":396,"e":401,"c":"w"},{"r":13,"q":14,"s":400,"e":401,"c":"l"},{"r":18,"q":19,"s":396,"e":401,"c":"l"},{"r":19,"q":22,"s":396,"e":401,"c":"w"}],
"P3":[{"r":0,"q":22,"s":401,"e":545,"c":"w"},{"r":0,"q":22,"s":403,"e":408,"c":"l"},{"r":0,"q":22,"s":408,"e":420,"c":"t"},{"r":0,"q":22,"s":423,"e":433,"c":"o"},{"r":0,"q":22,"s":433,"e":434,"c":"y"},{"r":0,"q":22,"s":448,"e":454,"c":"y"},{"r":0,"q":22,"s":471,"e":478,"c":"t"},
{"r":0,"q":1,"s":478,"e":495,"c":"l"},{"r":1,"q":2,"s":478,"e":527,"c":"l"},{"r":2,"q":3,"s":478,"e":490,"c":"l"},{"r":3,"q":4,"s":478,"e":495,"c":"l"},{"r":4,"q":7,"s":478,"e":490,"c":"l"},{"r":7,"q":9,"s":478,"e":495,"c":"l"},{"r":9,"q":10,"s":478,"e":545,"c":"l"},{"r":10,"q":11,"s":478,"e":493,"c":"l"},{"r":11,"q":12,"s":478,"e":490,"c":"l"},{"r":12,"q":17,"s":478,"e":495,"c":"l"},{"r":17,"q":18,"s":478,"e":483,"c":"l"},{"r":18,"q":19,"s":478,"e":530,"c":"l"},{"r":19,"q":20,"s":478,"e":495,"c":"l"},{"r":20,"q":21,"s":478,"e":490,"c":"l"},{"r":21,"q":22,"s":478,"e":535,"c":"l"},
{"r":2,"q":3,"s":401,"e":403,"c":"l"},{"r":4,"q":5,"s":401,"e":403,"c":"l"},{"r":6,"q":7,"s":401,"e":403,"c":"l"},{"r":9,"q":10,"s":401,"e":403,"c":"t"},{"r":18,"q":19,"s":401,"e":403,"c":"t"},{"r":11,"q":12,"s":403,"e":405,"c":"t"},
{"r":0,"q":1,"s":413,"e":423,"c":"g"},{"r":0,"q":1,"s":423,"e":426,"c":"o"},{"r":1,"q":2,"s":415,"e":428,"c":"g"},{"r":2,"q":3,"s":413,"e":424,"c":"g"},{"r":2,"q":3,"s":424,"e":427,"c":"o"},{"r":3,"q":4,"s":415,"e":428,"c":"g"},{"r":4,"q":5,"s":417,"e":427,"c":"g"},{"r":5,"q":6,"s":417,"e":430,"c":"g"},{"r":6,"q":7,"s":413,"e":423,"c":"g"},{"r":6,"q":7,"s":423,"e":429,"c":"o"},{"r":7,"q":8,"s":416,"e":427,"c":"g"},{"r":8,"q":9,"s":414,"e":424,"c":"g"},{"r":8,"q":9,"s":424,"e":429,"c":"o"},{"r":9,"q":10,"s":414,"e":426,"c":"g"},{"r":10,"q":11,"s":414,"e":427,"c":"g"},{"r":11,"q":12,"s":415,"e":425,"c":"g"},{"r":11,"q":12,"s":425,"e":429,"c":"o"},{"r":12,"q":13,"s":419,"e":431,"c":"g"},{"r":13,"q":14,"s":415,"e":425,"c":"g"},{"r":13,"q":14,"s":425,"e":429,"c":"o"},{"r":14,"q":15,"s":415,"e":427,"c":"g"},{"r":15,"q":16,"s":415,"e":428,"c":"g"},{"r":16,"q":17,"s":415,"e":427,"c":"g"},{"r":17,"q":18,"s":415,"e":425,"c":"g"},{"r":17,"q":18,"s":425,"e":429,"c":"o"},{"r":18,"q":19,"s":414,"e":427,"c":"g"},{"r":19,"q":20,"s":414,"e":424,"c":"g"},{"r":19,"q":20,"s":424,"e":429,"c":"o"},{"r":20,"q":21,"s":415,"e":427,"c":"g"},{"r":21,"q":22,"s":414,"e":424,"c":"g"},{"r":21,"q":22,"s":424,"e":429,"c":"o"},
{"r":0,"q":1,"s":449,"e":455,"c":"o"},{"r":0,"q":1,"s":455,"e":472,"c":"g"},{"r":1,"q":2,"s":454,"e":459,"c":"o"},{"r":1,"q":2,"s":459,"e":473,"c":"g"},{"r":2,"q":3,"s":454,"e":460,"c":"o"},{"r":2,"q":3,"s":460,"e":473,"c":"g"},{"r":3,"q":4,"s":449,"e":455,"c":"o"},{"r":3,"q":4,"s":455,"e":472,"c":"g"},{"r":4,"q":5,"s":452,"e":460,"c":"o"},{"r":4,"q":5,"s":460,"e":473,"c":"g"},{"r":5,"q":6,"s":449,"e":457,"c":"o"},{"r":5,"q":6,"s":457,"e":472,"c":"g"},{"r":6,"q":7,"s":454,"e":459,"c":"o"},{"r":6,"q":7,"s":459,"e":474,"c":"g"},{"r":7,"q":9,"s":451,"e":457,"c":"o"},{"r":7,"q":8,"s":457,"e":473,"c":"g"},{"r":8,"q":9,"s":457,"e":472,"c":"g"},{"r":9,"q":10,"s":451,"e":463,"c":"o"},{"r":9,"q":10,"s":463,"e":480,"c":"g"},{"r":10,"q":11,"s":449,"e":457,"c":"o"},{"r":10,"q":11,"s":457,"e":474,"c":"g"},{"r":11,"q":12,"s":454,"e":460,"c":"o"},{"r":11,"q":12,"s":460,"e":473,"c":"g"},{"r":12,"q":13,"s":449,"e":458,"c":"o"},{"r":12,"q":13,"s":458,"e":476,"c":"g"},{"r":13,"q":14,"s":454,"e":460,"c":"o"},{"r":13,"q":14,"s":460,"e":477,"c":"g"},{"r":14,"q":15,"s":454,"e":460,"c":"o"},{"r":14,"q":15,"s":460,"e":472,"c":"g"},{"r":15,"q":16,"s":453,"e":458,"c":"o"},{"r":15,"q":16,"s":458,"e":472,"c":"g"},{"r":16,"q":17,"s":452,"e":458,"c":"o"},{"r":16,"q":17,"s":458,"e":475,"c":"g"},{"r":17,"q":18,"s":452,"e":460,"c":"o"},{"r":17,"q":18,"s":460,"e":471,"c":"g"},{"r":18,"q":19,"s":451,"e":459,"c":"o"},{"r":18,"q":19,"s":459,"e":476,"c":"g"},{"r":19,"q":20,"s":454,"e":460,"c":"o"},{"r":19,"q":20,"s":460,"e":471,"c":"g"},{"r":20,"q":21,"s":454,"e":464,"c":"o"},{"r":20,"q":21,"s":464,"e":475,"c":"g"},{"r":21,"q":22,"s":454,"e":460,"c":"o"},{"r":21,"q":22,"s":460,"e":476,"c":"g"},{"r":9,"q":10,"s":480,"e":486,"c":"t"},{"r":12,"q":14,"s":477,"e":483,"c":"t"},
{"r":0,"q":1,"s":426,"e":429,"c":"w"},{"r":2,"q":3,"s":427,"e":429,"c":"w"},{"r":4,"q":5,"s":427,"e":429,"c":"w"},{"r":6,"q":7,"s":428,"e":429,"c":"w"},{"r":7,"q":8,"s":426,"e":429,"c":"w"},{"r":9,"q":11,"s":426,"e":429,"c":"w"},{"r":11,"q":12,"s":427,"e":429,"c":"w"},{"r":13,"q":14,"s":426,"e":429,"c":"w"},{"r":18,"q":19,"s":426,"e":429,"c":"w"},{"r":19,"q":20,"s":427,"e":429,"c":"w"},
{"r":0,"q":1,"s":401,"e":403,"c":"w"},{"r":3,"q":4,"s":401,"e":403,"c":"w"},{"r":5,"q":6,"s":401,"e":407,"c":"w"},{"r":7,"q":9,"s":401,"e":403,"c":"w"},{"r":10,"q":11,"s":401,"e":402,"c":"w"},{"r":12,"q":17,"s":401,"e":403,"c":"w"},{"r":17,"q":18,"s":401,"e":402,"c":"w"},{"r":19,"q":20,"s":401,"e":403,"c":"w"},{"r":20,"q":21,"s":401,"e":407,"c":"w"},{"r":2,"q":3,"s":403,"e":405,"c":"w"},{"r":4,"q":5,"s":403,"e":405,"c":"w"},{"r":6,"q":7,"s":403,"e":405,"c":"w"},{"r":11,"q":12,"s":401,"e":405,"c":"w"},
{"r":0,"q":1,"s":434,"e":448,"c":"w"},{"r":1,"q":2,"s":440,"e":442,"c":"w"},{"r":1,"q":2,"s":434,"e":440,"c":"y"},{"r":1,"q":2,"s":442,"e":448,"c":"y"},{"r":2,"q":3,"s":434,"e":448,"c":"w"},{"r":3,"q":4,"s":434,"e":436,"c":"y"},{"r":3,"q":4,"s":436,"e":446,"c":"w"},{"r":3,"q":4,"s":446,"e":448,"c":"y"},{"r":4,"q":8,"s":434,"e":448,"c":"w"},{"r":8,"q":9,"s":436,"e":446,"c":"w"},{"r":8,"q":9,"s":434,"e":436,"c":"y"},{"r":8,"q":9,"s":446,"e":448,"c":"y"},{"r":9,"q":12,"s":434,"e":447,"c":"w"},{"r":12,"q":13,"s":436,"e":446,"c":"w"},{"r":12,"q":13,"s":434,"e":436,"c":"y"},{"r":12,"q":13,"s":446,"e":448,"c":"y"},{"r":13,"q":14,"s":434,"e":448,"c":"w"},{"r":14,"q":16,"s":434,"e":436,"c":"y"},{"r":14,"q":16,"s":436,"e":446,"c":"w"},{"r":14,"q":16,"s":446,"e":448,"c":"y"},{"r":16,"q":17,"s":435,"e":446,"c":"w"},{"r":16,"q":17,"s":434,"e":435,"c":"y"},{"r":16,"q":17,"s":446,"e":448,"c":"y"},{"r":17,"q":18,"s":436,"e":447,"c":"w"},{"r":17,"q":18,"s":434,"e":436,"c":"y"},{"r":18,"q":19,"s":434,"e":446,"c":"w"},{"r":18,"q":19,"s":446,"e":448,"c":"y"},{"r":19,"q":20,"s":436,"e":446,"c":"w"},{"r":19,"q":20,"s":434,"e":436,"c":"y"},{"r":19,"q":20,"s":446,"e":448,"c":"y"},{"r":20,"q":21,"s":434,"e":448,"c":"w"},{"r":21,"q":22,"s":433,"e":448,"c":"y"},
{"r":5,"q":6,"s":462,"e":463,"c":"w"},{"r":5,"q":6,"s":466,"e":471,"c":"w"},{"r":0,"q":2,"s":467,"e":471,"c":"w"},{"r":3,"q":4,"s":467,"e":471,"c":"w"},{"r":7,"q":9,"s":467,"e":471,"c":"w"},{"r":10,"q":11,"s":467,"e":471,"c":"w"},{"r":12,"q":20,"s":467,"e":471,"c":"w"},{"r":21,"q":22,"s":467,"e":471,"c":"w"},{"r":5,"q":6,"s":477,"e":479,"c":"w"},{"r":5,"q":6,"s":484,"e":490,"c":"w"},{"r":19,"q":20,"s":484,"e":485,"c":"w"}],
"L3":[{"r":0,"q":22,"s":401,"e":567,"c":"w"},{"r":0,"q":22,"s":432,"e":435,"c":"l"},{"r":0,"q":22,"s":435,"e":446,"c":"t"},{"r":0,"q":22,"s":445,"e":458,"c":"o"},{"r":0,"q":22,"s":460,"e":473,"c":"y"},{"r":0,"q":22,"s":473,"e":487,"c":"o"},{"r":0,"q":22,"s":490,"e":502,"c":"t"},{"r":0,"q":22,"s":502,"e":517,"c":"l"},
{"r":9,"q":10,"s":401,"e":432,"c":"l"},{"r":5,"q":6,"s":401,"e":404,"c":"t"},{"r":14,"q":15,"s":401,"e":404,"c":"t"},{"r":18,"q":19,"s":401,"e":404,"c":"t"},{"r":1,"q":2,"s":535,"e":567,"c":"l"},{"r":19,"q":20,"s":517,"e":523,"c":"l"},{"r":19,"q":20,"s":534,"e":559,"c":"l"},{"r":21,"q":22,"s":527,"e":567,"c":"l"},
{"r":0,"q":1,"s":439,"e":449,"c":"g"},{"r":1,"q":2,"s":441,"e":454,"c":"g"},{"r":2,"q":3,"s":438,"e":447,"c":"g"},{"r":2,"q":3,"s":435,"e":437,"c":"g"},{"r":3,"q":4,"s":442,"e":454,"c":"g"},{"r":4,"q":6,"s":440,"e":453,"c":"g"},{"r":6,"q":7,"s":438,"e":446,"c":"g"},{"r":6,"q":7,"s":435,"e":437,"c":"g"},{"r":7,"q":8,"s":442,"e":452,"c":"g"},{"r":8,"q":9,"s":440,"e":450,"c":"g"},{"r":9,"q":10,"s":440,"e":453,"c":"g"},{"r":10,"q":11,"s":440,"e":450,"c":"g"},{"r":11,"q":12,"s":441,"e":457,"c":"g"},{"r":12,"q":13,"s":445,"e":451,"c":"g"},{"r":13,"q":15,"s":441,"e":453,"c":"g"},{"r":15,"q":17,"s":441,"e":454,"c":"g"},{"r":17,"q":18,"s":441,"e":451,"c":"g"},{"r":18,"q":19,"s":439,"e":453,"c":"g"},{"r":19,"q":20,"s":441,"e":457,"c":"g"},{"r":20,"q":21,"s":438,"e":447,"c":"g"},{"r":20,"q":21,"s":435,"e":437,"c":"g"},{"r":21,"q":22,"s":441,"e":447,"c":"g"},
{"r":0,"q":1,"s":481,"e":494,"c":"g"},{"r":1,"q":2,"s":485,"e":495,"c":"g"},{"r":2,"q":3,"s":481,"e":493,"c":"g"},{"r":3,"q":4,"s":482,"e":495,"c":"g"},{"r":4,"q":5,"s":480,"e":490,"c":"g"},{"r":5,"q":6,"s":482,"e":495,"c":"g"},{"r":6,"q":7,"s":486,"e":494,"c":"g"},{"r":7,"q":8,"s":482,"e":496,"c":"g"},{"r":8,"q":9,"s":483,"e":495,"c":"g"},{"r":9,"q":10,"s":486,"e":501,"c":"g"},{"r":10,"q":11,"s":486,"e":496,"c":"g"},{"r":11,"q":12,"s":486,"e":495,"c":"g"},{"r":12,"q":13,"s":486,"e":498,"c":"g"},{"r":13,"q":14,"s":484,"e":499,"c":"g"},{"r":14,"q":15,"s":485,"e":494,"c":"g"},{"r":15,"q":16,"s":483,"e":494,"c":"g"},{"r":16,"q":17,"s":482,"e":497,"c":"g"},{"r":17,"q":18,"s":485,"e":493,"c":"g"},{"r":18,"q":19,"s":482,"e":498,"c":"g"},{"r":19,"q":20,"s":486,"e":492,"c":"g"},{"r":20,"q":21,"s":486,"e":497,"c":"g"},{"r":21,"q":22,"s":486,"e":498,"c":"g"},
{"r":0,"q":22,"s":437,"e":438,"c":"w"},{"r":7,"q":8,"s":437,"e":438,"c":"g"},{"r":0,"q":22,"s":458,"e":460,"c":"w"},
{"r":0,"q":1,"s":460,"e":474,"c":"w"},{"r":0,"q":1,"s":479,"e":480,"c":"w"},{"r":2,"q":3,"s":460,"e":473,"c":"w"},{"r":3,"q":4,"s":472,"e":480,"c":"w"},{"r":4,"q":5,"s":460,"e":473,"c":"w"},{"r":5,"q":6,"s":460,"e":472,"c":"w"},{"r":6,"q":7,"s":460,"e":473,"c":"w"},{"r":7,"q":8,"s":460,"e":474,"c":"w"},{"r":7,"q":8,"s":479,"e":480,"c":"w"},{"r":8,"q":9,"s":472,"e":480,"c":"w"},{"r":9,"q":10,"s":460,"e":474,"c":"w"},{"r":10,"q":11,"s":460,"e":474,"c":"w"},{"r":10,"q":11,"s":479,"e":480,"c":"w"},{"r":11,"q":12,"s":460,"e":473,"c":"w"},{"r":12,"q":13,"s":460,"e":468,"c":"w"},{"r":13,"q":14,"s":460,"e":474,"c":"w"},{"r":13,"q":14,"s":479,"e":480,"c":"w"},{"r":14,"q":15,"s":472,"e":480,"c":"w"},{"r":15,"q":16,"s":468,"e":472,"c":"w"},{"r":16,"q":17,"s":460,"e":480,"c":"w"},{"r":17,"q":18,"s":471,"e":472,"c":"w"},{"r":18,"q":19,"s":472,"e":474,"c":"w"},{"r":18,"q":19,"s":479,"e":480,"c":"w"},{"r":19,"q":20,"s":473,"e":480,"c":"w"},{"r":20,"q":21,"s":472,"e":473,"c":"w"},{"r":21,"q":22,"s":458,"e":473,"c":"w"},{"r":5,"q":6,"s":499,"e":501,"c":"w"},
{"r":2,"q":3,"s":511,"e":517,"c":"w"},{"r":5,"q":6,"s":514,"e":517,"c":"w"},{"r":8,"q":9,"s":512,"e":517,"c":"w"},{"r":11,"q":12,"s":510,"e":517,"c":"w"},{"r":14,"q":15,"s":513,"e":517,"c":"w"},{"r":20,"q":21,"s":513,"e":517,"c":"w"}]
},
"vconcat":[
{"width":850,"height":100,"layer":[
{"data":{"values":[{"s":-6.5,"r":1.08,"t":"MSA1:"},{"s":-6.5,"r":2.08,"t":"MSA2:"},{"s":-6.5,"r":3.08,"t":"MSA3:"},{"s":-6.5,"r":4.08,"t":"MSA4:"}]},"mark":{"type":"text","align":"left","fontSize":8},"encoding":{"x":{"field":"s","type":"quantitative","scale":{"domain":[-9,203.5],"nice":false}},"y":{"field":"r","type":"quantitative","scale":{"domain":[5.32,0.237],"nice":false}},"text":{"field":"t"}}},
{"data":{"values":[{"s":6,"r":1.02,"t":"GPCR_22_PROMALS.fasta"},{"s":6,"r":2.02,"t":"GPCR_22_PROMALS.fasta"},{"s":6,"r":3.02,"t":"GPCR_22_LINSI.fasta"},{"s":6,"r":4.02,"t":"GPCR_22_LINSI.fasta"},{"s":66,"r":1.95,"t":"Transmembrane"},{"s":66,"r":3.95,"t":"Transmembrane"}]},"mark":{"type":"text","align":"left","fontSize":13.5},"encoding":{"x":{"field":"s","type":"quantitative"},"y":{"field":"r","type":"quantitative"},"text":{"field":"t"}}}]},
{"width":850,"height":15,"layer":[
{"data":{"values":[{"s":1,"e":202.5,"r":0,"q":14}]},"mark":{"type":"rect","color":"#c8c8c8"},"encoding":{"x":{"field":"s","type":"quantitative","scale":{"domain":[-9,203.5],"nice":false}},"x2":{"field":"e"},"y":{"field":"r","type":"quantitative","scale":{"domain":[15,0],"nice":false}},"y2":{"field":"q"}}},
{"data":{"name":"T1"},"mark":{"type":"rule","color":"#000","strokeWidth":2,"xOffset":1},"encoding":{"x":{"field":"s","type":"quantitative"},"y":{"datum":10},"y2":{"datum":14}}},
{"data":{"name":"T1"},"mark":{"type":"text","fontSize":10,"xOffset":1},"encoding":{"x":{"field":"s","type":"quantitative"},"y":{"datum":5.5},"text":{"field":"t"}}},
{"data":{"values":[{"s":1,"t":"1"}]},"mark":{"type":"rule","color":"#000","strokeWidth":2},"encoding":{"x":{"field":"s","type":"quantitative"},"y":{"datum":10},"y2":{"datum":14}}},
{"data":{"values":[{"s":1,"t":"1"}]},"mark":{"type":"text","fontSize":10,"align":"left"},"encoding":{"x":{"field":"s","type":"quantitative"},"y":{"datum":5.5},"text":{"field":"t"}}}]},
{"width":850,"height":97,"layer":[
{"data":{"name":"P1"},"mark":{"type":"rect","clip":true},"encoding":{"x":{"field":"s","type":"quantitative","scale":{"domain":[-9,203.5],"nice":false}},"x2":{"field":"e"},"y":{"field":"r","type":"quantitative","scale":{"domain":[24.5,0.25],"nice":false}},"y2":{"field":"q"},"color":{"field":"c","type":"nominal","scale":{"domain":["g","t","l","o","y","p","m","w"],"range":["#000","#000","#000","#000","#000","#000","#f0f","#fff"]}}}},
{"data":{"values":[{"s":-8.25,"r":2.3,"t":"MSA1"}]},"mark":{"type":"text","align":"left","fontSize":8.5},"encoding":{"x":{"field":"s","type":"quantitative"},"y":{"field":"r","type":"quantitative"},"text":{"field":"t"}}}]},
{"width":850,"height":99,"layer":[
{"data":{"name":"P1"},"mark":{"type":"rect","clip":true},"encoding":{"x":{"field":"s","type":"quantitative","scale":{"domain":[-9,203.5],"nice":false}},"x2":{"field":"e"},"y":{"field":"r","type":"quantitative","scale":{"domain":[24.75,0],"nice":false}},"y2":{"field":"q"},"color":{"field":"c","type":"nominal","scale":{"domain":["g","t","l","o","y","p","m","w"],"range":["#33ff33","#d2b08a","#dec4a6","#f2d768","#ffff99","#ffd8e0","#f0f","#fff"]}}}},
{"data":{"values":[{"s":1.125,"e":200.875,"r":0.125,"q":21.875}]},"mark":{"type":"rect","filled":false,"stroke":"#000","strokeWidth":1},"encoding":{"x":{"field":"s","type":"quantitative"},"x2":{"field":"e"},"y":{"field":"r","type":"quantitative"},"y2":{"field":"q"}}},
{"data":{"values":[{"s":-8.25,"r":2.75,"t":"MSA2"}]},"mark":{"type":"text","align":"left","fontSize":8.5},"encoding":{"x":{"field":"s","type":"quantitative"},"y":{"field":"r","type":"quantitative"},"text":{"field":"t"}}}]},
{"width":850,"height":97,"layer":[
{"data":{"name":"L1"},"mark":{"type":"rect","clip":true},"encoding":{"x":{"field":"s","type":"quantitative","scale":{"domain":[-9,203.5],"nice":false}},"x2":{"field":"e"},"y":{"field":"r","type":"quantitative","scale":{"domain":[24.5,0.25],"nice":false}},"y2":{"field":"q"},"color":{"field":"c","type":"nominal","scale":{"domain":["g","t","l","o","y","p","m","w"],"range":["#000","#000","#000","#000","#000","#000","#f0f","#fff"]}}}},
{"data":{"values":[{"s":1,"e":10,"r":23.25,"q":24.5}]},"mark":{"type":"rect","color":"#33ff33"},"encoding":{"x":{"field":"s","type":"quantitative"},"x2":{"field":"e"},"y":{"field":"r","type":"quantitative"},"y2":{"field":"q"}}},
{"data":{"values":[{"s":-8.25,"r":2.3,"t":"MSA3"}]},"mark":{"type":"text","align":"left","fontSize":8.5},"encoding":{"x":{"field":"s","type":"quantitative"},"y":{"field":"r","type":"quantitative"},"text":{"field":"t"}}}]},
{"width":850,"height":128,"layer":[
{"data":{"name":"L1"},"mark":{"type":"rect","clip":true},"encoding":{"x":{"field":"s","type":"quantitative","scale":{"domain":[-9,203.5],"nice":false}},"x2":{"field":"e"},"y":{"field":"r","type":"quantitative","scale":{"domain":[32,0],"nice":false}},"y2":{"field":"q"},"color":{"field":"c","type":"nominal","scale":{"domain":["g","t","l","o","y","p","m","w"],"range":["#33ff33","#d2b08a","#dec4a6","#f2d768","#ffff99","#ffd8e0","#f0f","#fff"]}}}},
{"data":{"values":[{"s":1.125,"e":200.875,"r":0.125,"q":21.875}]},"mark":{"type":"rect","filled":false,"stroke":"#000","strokeWidth":1},"encoding":{"x":{"field":"s","type":"quantitative"},"x2":{"field":"e"},"y":{"field":"r","type":"quantitative"},"y2":{"field":"q"}}},
{"data":{"values":[{"s":-8.25,"r":2.75,"t":"MSA4"}]},"mark":{"type":"text","align":"left","fontSize":8.5},"encoding":{"x":{"field":"s","type":"quantitative"},"y":{"field":"r","type":"quantitative"},"text":{"field":"t"}}}]},
{"width":850,"height":15,"layer":[
{"data":{"values":[{"s":201,"e":402.5,"r":0,"q":14}]},"mark":{"type":"rect","color":"#c8c8c8"},"encoding":{"x":{"field":"s","type":"quantitative","scale":{"domain":[191,403.5],"nice":false}},"x2":{"field":"e"},"y":{"field":"r","type":"quantitative","scale":{"domain":[15,0],"nice":false}},"y2":{"field":"q"}}},
{"data":{"values":[{"s":232,"e":242,"r":10,"q":14}]},"mark":{"type":"rect","color":"#0000e0"},"encoding":{"x":{"field":"s","type":"quantitative"},"x2":{"field":"e"},"y":{"field":"r","type":"quantitative"},"y2":{"field":"q"}}},
{"data":{"name":"T2"},"mark":{"type":"rule","color":"#000","strokeWidth":2,"xOffset":1},"encoding":{"x":{"field":"s","type":"quantitative"},"y":{"datum":10},"y2":{"datum":14}}},
{"data":{"name":"T2"},"mark":{"type":"text","fontSize":10,"xOffset":1},"encoding":{"x":{"field":"s","type":"quantitative"},"y":{"datum":5.5},"text":{"field":"t"}}},
{"data":{"values":[{"s":201,"t":"201"}]},"mark":{"type":"rule","color":"#000","strokeWidth":2},"encoding":{"x":{"field":"s","type":"quantitative"},"y":{"datum":10},"y2":{"datum":14}}},
{"data":{"values":[{"s":201,"t":"201"}]},"mark":{"type":"text","fontSize":10,"align":"left"},"encoding":{"x":{"field":"s","type":"quantitative"},"y":{"datum":5.5},"text":{"field":"t"}}}]},
{"width":850,"height":97,"layer":[
{"data":{"name":"P2"},"mark":{"type":"rect","clip":true},"encoding":{"x":{"field":"s","type":"quantitative","scale":{"domain":[191,403.5],"nice":false}},"x2":{"field":"e"},"y":{"field":"r","type":"quantitative","scale":{"domain":[24.5,0.25],"nice":false}},"y2":{"field":"q"},"color":{"field":"c","type":"nominal","scale":{"domain":["g","t","l","o","y","p","m","w"],"range":["#000","#000","#000","#000","#000","#000","#f0f","#fff"]}}}},
{"data":{"values":[{"s":191.75,"r":2.75,"t":"MSA1"}]},"mark":{"type":"text","align":"left","fontSize":8.5},"encoding":{"x":{"field":"s","type":"quantitative"},"y":{"field":"r","type":"quantitative"},"text":{"field":"t"}}}]},
{"width":850,"height":99,"layer":[
{"data":{"name":"P2"},"mark":{"type":"rect","clip":true},"encoding":{"x":{"field":"s","type":"quantitative","scale":{"domain":[191,403.5],"nice":false}},"x2":{"field":"e"},"y":{"field":"r","type":"quantitative","scale":{"domain":[24.75,0],"nice":false}},"y2":{"field":"q"},"color":{"field":"c","type":"nominal","scale":{"domain":["g","t","l","o","y","p","m","w"],"range":["#33ff33","#d2b08a","#dec4a6","#f2d768","#ffff99","#ffd8e0","#f0f","#fff"]}}}},
{"data":{"values":[{"s":201.125,"e":400.875,"r":0.125,"q":21.875}]},"mark":{"type":"rect","filled":false,"stroke":"#000","strokeWidth":1},"encoding":{"x":{"field":"s","type":"quantitative"},"x2":{"field":"e"},"y":{"field":"r","type":"quantitative"},"y2":{"field":"q"}}},
{"data":{"values":[{"s":191.75,"r":2.25,"t":"MSA2"}]},"mark":{"type":"text","align":"left","fontSize":8.5},"encoding":{"x":{"field":"s","type":"quantitative"},"y":{"field":"r","type":"quantitative"},"text":{"field":"t"}}}]},
{"width":850,"height":97,"layer":[
{"data":{"name":"L2"},"mark":{"type":"rect","clip":true},"encoding":{"x":{"field":"s","type":"quantitative","scale":{"domain":[191,403.5],"nice":false}},"x2":{"field":"e"},"y":{"field":"r","type":"quantitative","scale":{"domain":[24.5,0.25],"nice":false}},"y2":{"field":"q"},"color":{"field":"c","type":"nominal","scale":{"domain":["g","t","l","o","y","p","m","w"],"range":["#000","#000","#000","#000","#000","#000","#f0f","#fff"]}}}},
{"data":{"values":[{"s":191.75,"r":2.75,"t":"MSA3"}]},"mark":{"type":"text","align":"left","fontSize":8.5},"encoding":{"x":{"field":"s","type":"quantitative"},"y":{"field":"r","type":"quantitative"},"text":{"field":"t"}}}]},
{"width":850,"height":128,"layer":[
{"data":{"name":"L2"},"mark":{"type":"rect","clip":true},"encoding":{"x":{"field":"s","type":"quantitative","scale":{"domain":[191,403.5],"nice":false}},"x2":{"field":"e"},"y":{"field":"r","type":"quantitative","scale":{"domain":[32,0],"nice":false}},"y2":{"field":"q"},"color":{"field":"c","type":"nominal","scale":{"domain":["g","t","l","o","y","p","m","w"],"range":["#33ff33","#d2b08a","#dec4a6","#f2d768","#ffff99","#ffd8e0","#f0f","#fff"]}}}},
{"data":{"values":[{"s":201.125,"e":400.875,"r":0.125,"q":21.875}]},"mark":{"type":"rect","filled":false,"stroke":"#000","strokeWidth":1},"encoding":{"x":{"field":"s","type":"quantitative"},"x2":{"field":"e"},"y":{"field":"r","type":"quantitative"},"y2":{"field":"q"}}},
{"data":{"values":[{"s":191.75,"r":2.75,"t":"MSA4"}]},"mark":{"type":"text","align":"left","fontSize":8.5},"encoding":{"x":{"field":"s","type":"quantitative"},"y":{"field":"r","type":"quantitative"},"text":{"field":"t"}}}]},
{"width":850,"height":15,"layer":[
{"data":{"values":[{"s":401,"e":570,"r":0,"q":14}]},"mark":{"type":"rect","color":"#dcdcdc"},"encoding":{"x":{"field":"s","type":"quantitative","scale":{"domain":[391,603.5],"nice":false}},"x2":{"field":"e"},"y":{"field":"r","type":"quantitative","scale":{"domain":[15,0],"nice":false}},"y2":{"field":"q"}}},
{"data":{"values":[{"s":401,"e":567.5,"r":0,"q":14}]},"mark":{"type":"rect","color":"#c8c8c8"},"encoding":{"x":{"field":"s","type":"quantitative"},"x2":{"field":"e"},"y":{"field":"r","type":"quantitative"},"y2":{"field":"q"}}},
{"data":{"name":"T3"},"mark":{"type":"rule","color":"#000","strokeWidth":2,"xOffset":1},"encoding":{"x":{"field":"s","type":"quantitative"},"y":{"datum":10},"y2":{"datum":14}}},
{"data":{"name":"T3"},"mark":{"type":"text","fontSize":10,"xOffset":1},"encoding":{"x":{"field":"s","type":"quantitative"},"y":{"datum":5.5},"text":{"field":"t"}}},
{"data":{"values":[{"s":401,"t":"401"}]},"mark":{"type":"rule","color":"#000","strokeWidth":2},"encoding":{"x":{"field":"s","type":"quantitative"},"y":{"datum":10},"y2":{"datum":14}}},
{"data":{"values":[{"s":401,"t":"401"}]},"mark":{"type":"text","fontSize":10,"align":"left"},"encoding":{"x":{"field":"s","type":"quantitative"},"y":{"datum":5.5},"text":{"field":"t"}}}]},
{"width":850,"height":97,"layer":[
{"data":{"name":"P3"},"mark":{"type":"rect","clip":true},"encoding":{"x":{"field":"s","type":"quantitative","scale":{"domain":[391,603.5],"nice":false}},"x2":{"field":"e"},"y":{"field":"r","type":"quantitative","scale":{"domain":[24.5,0.25],"nice":false}},"y2":{"field":"q"},"color":{"field":"c","type":"nominal","scale":{"domain":["g","t","l","o","y","p","m","w"],"range":["#000","#000","#000","#000","#000","#000","#f0f","#fff"]}}}},
{"data":{"values":[{"s":391.75,"r":2.75,"t":"MSA 1)"}]},"mark":{"type":"text","align":"left","fontSize":8.5},"encoding":{"x":{"field":"s","type":"quantitative"},"y":{"field":"r","type":"quantitative"},"text":{"field":"t"}}}]},
{"width":850,"height":99,"layer":[
{"data":{"name":"P3"},"mark":{"type":"rect","clip":true},"encoding":{"x":{"field":"s","type":"quantitative","scale":{"domain":[391,603.5],"nice":false}},"x2":{"field":"e"},"y":{"field":"r","type":"quantitative","scale":{"domain":[24.75,0],"nice":false}},"y2":{"field":"q"},"color":{"field":"c","type":"nominal","scale":{"domain":["g","t","l","o","y","p","m","w"],"range":["#33ff33","#d2b08a","#dec4a6","#f2d768","#ffff99","#ffd8e0","#f0f","#fff"]}}}},
{"data":{"values":[{"s":401.125,"e":544.875,"r":0.125,"q":21.875}]},"mark":{"type":"rect","filled":false,"stroke":"#000","strokeWidth":1},"encoding":{"x":{"field":"s","type":"quantitative"},"x2":{"field":"e"},"y":{"field":"r","type":"quantitative"},"y2":{"field":"q"}}},
{"data":{"values":[{"s":391.75,"r":2.75,"t":"MSA 2)"}]},"mark":{"type":"text","align":"left","fontSize":8.5},"encoding":{"x":{"field":"s","type":"quantitative"},"y":{"field":"r","type":"quantitative"},"text":{"field":"t"}}}]},
{"width":850,"height":97,"layer":[
{"data":{"name":"L3"},"mark":{"type":"rect","clip":true},"encoding":{"x":{"field":"s","type":"quantitative","scale":{"domain":[391,603.5],"nice":false}},"x2":{"field":"e"},"y":{"field":"r","type":"quantitative","scale":{"domain":[24.5,0.25],"nice":false}},"y2":{"field":"q"},"color":{"field":"c","type":"nominal","scale":{"domain":["g","t","l","o","y","p","m","w"],"range":["#000","#000","#000","#000","#000","#000","#f0f","#fff"]}}}},
{"data":{"values":[{"s":391.75,"r":2.75,"t":"MSA 3)"}]},"mark":{"type":"text","align":"left","fontSize":8.5},"encoding":{"x":{"field":"s","type":"quantitative"},"y":{"field":"r","type":"quantitative"},"text":{"field":"t"}}}]},
{"width":850,"height":150,"layer":[
{"data":{"name":"L3"},"mark":{"type":"rect","clip":true},"encoding":{"x":{"field":"s","type":"quantitative","scale":{"domain":[391,603.5],"nice":false}},"x2":{"field":"e"},"y":{"field":"r","type":"quantitative","scale":{"domain":[37.5,0],"nice":false}},"y2":{"field":"q"},"color":{"field":"c","type":"nominal","scale":{"domain":["g","t","l","o","y","p","m","w"],"range":["#33ff33","#d2b08a","#dec4a6","#f2d768","#ffff99","#ffd8e0","#f0f","#fff"]}}}},
{"data":{"values":[{"s":401.125,"e":566.875,"r":0.125,"q":21.875}]},"mark":{"type":"rect","filled":false,"stroke":"#000","strokeWidth":1},"encoding":{"x":{"field":"s","type":"quantitative"},"x2":{"field":"e"},"y":{"field":"r","type":"quantitative"},"y2":{"field":"q"}}},
{"data":{"values":[{"s":391.75,"r":2.75,"t":"MSA 4)"}]},"mark":{"type":"text","align":"left","fontSize":8.5},"encoding":{"x":{"field":"s","type":"quantitative"},"y":{"field":"r","type":"quantitative"},"text":{"field":"t"}}}]}
]}
